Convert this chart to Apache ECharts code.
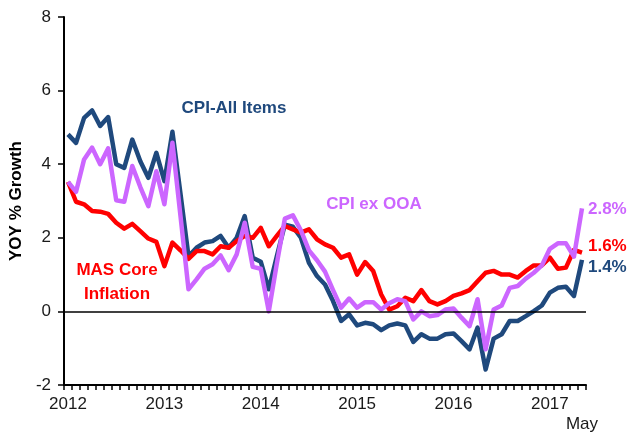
<!DOCTYPE html>
<html>
<head>
<meta charset="utf-8">
<script src="https://cdn.jsdelivr.net/npm/echarts@6/dist/echarts.min.js"></script>
<style>
  html, body { margin: 0; padding: 0; background: #fff; }
  #chart { width: 633px; height: 439px; }
</style>
</head>
<body>
<div id="chart"></div>
<script>
// ── data ──────────────────────────────────────────
const startYear = 2012
const monthCount = 65 // Jan 2012 .. May 2017
const yearLabels = ['2012', '2013', '2014', '2015', '2016', '2017']
const lastLabel = 'May'

const cpiAll = [
  4.81, 4.58, 5.26, 5.46, 5.04, 5.28, 4.0, 3.9, 4.67, 4.08, 3.63, 4.31,
  3.54, 4.88, 3.2, 1.5, 1.73, 1.87, 1.91, 2.05, 1.73, 2.0, 2.59, 1.46,
  1.35, 0.6, 1.5, 2.36, 2.3, 2.0, 1.32, 0.96, 0.73, 0.28, -0.26, -0.08,
  -0.38, -0.31, -0.35, -0.51, -0.38, -0.33, -0.38, -0.83, -0.62, -0.74, -0.74, -0.62,
  -0.6, -0.81, -1.03, -0.44, -1.58, -0.74, -0.62, -0.26, -0.26, -0.13, 0.01, 0.16,
  0.51, 0.64, 0.67, 0.42, 1.4
]
const cpiExOOA = [
  3.52, 3.25, 4.13, 4.45, 4.0, 4.43, 3.02, 2.98, 3.95, 3.38, 2.86, 3.81,
  2.91, 4.58, 2.6, 0.6, 0.87, 1.16, 1.28, 1.52, 1.12, 1.55, 2.41, 1.21,
  1.16, 0.0, 1.3, 2.52, 2.61, 2.2, 1.66, 1.39, 1.08, 0.58, 0.1, 0.35,
  0.1, 0.25, 0.25, 0.05, 0.22, 0.33, 0.28, -0.22, 0.0, -0.13, -0.1, 0.05,
  0.08, -0.17, -0.4, 0.33, -1.03, 0.05, 0.16, 0.64, 0.69, 0.89, 1.05, 1.25,
  1.7, 1.85, 1.85, 1.49, 2.8
]
const masCore = [
  3.52, 2.98, 2.91, 2.73, 2.71, 2.65, 2.41, 2.25, 2.38, 2.18, 1.98, 1.89,
  1.23, 1.87, 1.66, 1.43, 1.64, 1.64, 1.55, 1.77, 1.73, 1.91, 2.05, 2.0,
  2.27, 1.77, 2.05, 2.32, 2.23, 2.14, 2.23, 1.96, 1.82, 1.73, 1.46, 1.55,
  1.0, 1.34, 1.1, 0.46, 0.05, 0.14, 0.37, 0.28, 0.58, 0.28, 0.19, 0.28,
  0.42, 0.49, 0.58, 0.82, 1.05, 1.1, 1.0, 1.0, 0.92, 1.1, 1.25, 1.25,
  1.46, 1.16, 1.19, 1.67, 1.6
]

// ── styles ────────────────────────────────────────
const FONT = '"Liberation Sans", Arial, sans-serif'
const C = {
  blue: '#1f497d',
  violet: '#cc66ff',
  red: '#ff0000',
  axis: '#000000',
  text: '#1a1a1a',
}

const months = []
for (let i = 0; i < monthCount; i++) {
  months.push(`${startYear + Math.floor(i / 12)}-${String((i % 12) + 1).padStart(2, '0')}`)
}

const endLabel = (color, dy) => ({
  show: true,
  distance: 6,
  offset: [0, dy],
  color,
  fontFamily: FONT,
  fontSize: 17,
  fontWeight: 'bold',
  formatter: p => p.value.toFixed(1) + '%',
})

const line = (name, data, color, z, dy) => ({
  name,
  type: 'line',
  data,
  z,
  symbol: 'none',
  smooth: false,
  lineStyle: { color, width: 4.5, join: 'round' },
  itemStyle: { color },
  endLabel: endLabel(color, dy),
  emphasis: { disabled: true },
})

const chart = echarts.init(document.getElementById('chart'), null, { renderer: 'canvas' })

const blueSeries = line('CPI-All Items', cpiAll, C.blue, 2, 7)
blueSeries.markLine = {
  silent: true,
  symbol: 'none',
  label: { show: false },
  lineStyle: { color: C.axis, width: 1.5, type: 'solid' },
  data: [{ yAxis: 0 }],
}

chart.setOption({
  animation: false,
  grid: { left: 60, right: 47, top: 17, bottom: 54 },
  xAxis: {
    type: 'category',
    data: months,
    boundaryGap: true,
    axisLine: { onZero: false, lineStyle: { color: C.axis, width: 2 } },
    axisTick: {
      show: true,
      interval: 0,
      alignWithLabel: false,
      length: 5,
      lineStyle: { color: C.axis, width: 1.5 },
    },
    axisLabel: {
      show: true,
      interval: 0,
      hideOverlap: false,
      showMaxLabel: true,
      margin: 9,
      color: C.text,
      fontFamily: FONT,
      fontSize: 17,
      lineHeight: 20,
      formatter: (v, i) => {
        if (i === monthCount - 1) return '\n' + lastLabel
        return i % 12 === 0 ? yearLabels[i / 12] : ''
      },
    },
    splitLine: { show: false },
  },
  yAxis: {
    type: 'value',
    min: -2,
    max: 8,
    interval: 2,
    name: 'YOY % Growth',
    nameLocation: 'middle',
    nameRotate: 90,
    nameGap: 34,
    nameTextStyle: { color: C.axis, fontFamily: FONT, fontSize: 17, fontWeight: 'bold' },
    axisLine: { show: true, lineStyle: { color: C.axis, width: 2 } },
    axisTick: { show: true, length: 6, lineStyle: { color: C.axis, width: 1.5 } },
    axisLabel: { margin: 13, color: C.text, fontFamily: FONT, fontSize: 17 },
    splitLine: { show: false },
  },
  series: [
    blueSeries,
    line('MAS Core Inflation', masCore, C.red, 3, -6),
    line('CPI ex OOA', cpiExOOA, C.violet, 4, 1),
  ],
  graphic: [
    {
      type: 'text', x: 234, y: 108,
      style: {
        text: 'CPI-All Items', fill: C.blue, font: `bold 17px ${FONT}`,
        align: 'center', verticalAlign: 'middle',
      },
    },
    {
      type: 'text', x: 374, y: 204,
      style: {
        text: 'CPI ex OOA', fill: C.violet, font: `bold 17px ${FONT}`,
        align: 'center', verticalAlign: 'middle',
      },
    },
    {
      type: 'text', x: 117, y: 270,
      style: {
        text: 'MAS Core', fill: C.red, font: `bold 17px ${FONT}`,
        align: 'center', verticalAlign: 'middle',
      },
    },
    {
      type: 'text', x: 117, y: 294,
      style: {
        text: 'Inflation', fill: C.red, font: `bold 17px ${FONT}`,
        align: 'center', verticalAlign: 'middle',
      },
    },
  ],
})
</script>
</body>
</html>
